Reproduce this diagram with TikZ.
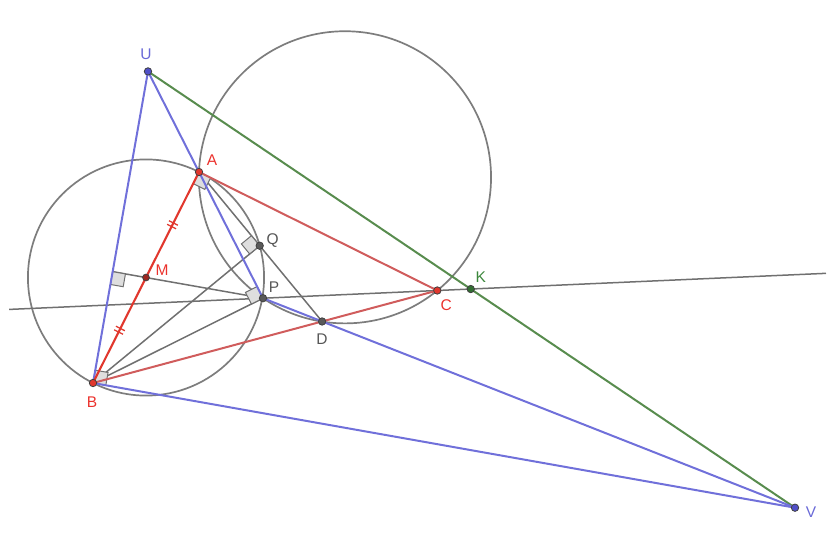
\documentclass[tikz,border=0pt]{standalone}
\usepackage{fontspec}
\setmainfont{Liberation Sans}
\usetikzlibrary{calc}
\definecolor{lblue}{RGB}{112,112,218}
\definecolor{dblue}{RGB}{80,80,200}
\definecolor{lgreen}{RGB}{88,140,78}
\definecolor{dgreen}{RGB}{50,110,50}
\definecolor{rline}{RGB}{225,55,45}
\definecolor{sline}{RGB}{208,92,92}
\definecolor{gline}{RGB}{112,112,112}
\definecolor{gcirc}{RGB}{125,125,125}
\definecolor{rtext}{RGB}{235,50,45}
\definecolor{gtext}{RGB}{85,85,85}
\definecolor{btext}{RGB}{105,105,215}
\definecolor{ktext}{RGB}{60,135,60}
\newcommand{\rtmark}[3]{%
  \coordinate (rma) at ($(#1)!13pt!(#2)$);
  \coordinate (rmb) at ($(#1)!13pt!(#3)$);
  \draw[markbox] (#1) -- (rma) -- ($(rma)+(rmb)-(#1)$) -- (rmb) -- cycle;}
\begin{document}
\begin{tikzpicture}[x=1pt,y=-1pt,
  bluel/.style={draw=lblue,line width=2pt},
  greenl/.style={draw=lgreen,line width=2pt},
  redl/.style={draw=rline,line width=2.1pt},
  salml/.style={draw=sline,line width=2pt},
  grayl/.style={draw=gline,line width=1.5pt},
  circl/.style={draw=gcirc,line width=1.7pt},
  markbox/.style={draw=gline,fill=black!13,line width=1pt},
  lbl/.style={font=\fontsize{15.5}{17}\selectfont,inner sep=0pt},
  dot/.style={draw=black!75,line width=0.8pt}]
\useasboundingbox (0,0) rectangle (838,552);
% base points
\coordinate (A) at (199,172);
\coordinate (B) at (93,383);
\coordinate (C) at (437.3,290.5);
\coordinate (P) at (263,298.2);
\coordinate (V) at (795,507.7);
\coordinate (M) at ($(A)!0.5!(B)$);
\coordinate (U) at ($(A)!-0.797!(P)$);
\coordinate (D) at (intersection of P--V and B--C);
\coordinate (K) at (intersection of U--V and P--C);
\coordinate (Q) at ($(A)!(B)!(D)$);
\coordinate (F) at ($(U)!(P)!(B)$);
\coordinate (L1) at ($(P)!-1.457!(C)$);
\coordinate (L2) at ($(P)!3.23!(C)$);
\coordinate (O2) at (344.97,177.3);
% circles
\draw[circl] (M) circle[radius=118.07];
\draw[circl] (O2) circle[radius=146.07];
% gray lines
\draw[grayl] (L1) -- (L2);
\draw[grayl] (F) -- (P);
\draw[grayl] (A) -- (D);
\draw[grayl] (B) -- (Q);
\draw[grayl] (B) -- (P);
% right-angle marks
\rtmark{A}{B}{C}
\rtmark{B}{U}{V}
\rtmark{P}{A}{B}
\rtmark{Q}{A}{B}
\rtmark{F}{P}{B}
% coloured lines
\draw[salml] (A) -- (C);
\draw[salml] (B) -- (C);
\draw[greenl] (U) -- (V);
\draw[bluel] (U) -- (B);
\draw[bluel] (U) -- (P);
\draw[bluel] (P) -- (V);
\draw[bluel] (B) -- (V);
\draw[redl] (A) -- (B);
% tick marks on AB
\foreach \t in {0.25,0.75}{
  \coordinate (tc) at ($(A)!\t!(B)$);
  \foreach \s in {-2,2}{
    \coordinate (ts) at ($(tc)!\s pt!(A)$);
    \draw[draw=rline,line width=1.3pt] ($(ts)!5pt!90:(A)$) -- ($(ts)!5pt!-90:(A)$);
  }
}
% points
\fill[rline,dot] (A) circle[radius=3.7];
\fill[rline,dot] (B) circle[radius=3.7];
\fill[rline,dot] (C) circle[radius=3.7];
\fill[fill=rline!70!black,dot] (M) circle[radius=3.4];
\fill[fill=black!65,dot] (P) circle[radius=3.7];
\fill[fill=black!65,dot] (Q) circle[radius=3.7];
\fill[fill=black!65,dot] (D) circle[radius=3.7];
\fill[fill=dgreen,dot] (K) circle[radius=3.7];
\fill[fill=dblue,dot] (U) circle[radius=3.7];
\fill[fill=dblue,dot] (V) circle[radius=3.7];
% labels
\node[lbl,text=btext] (lU) at ($(U)+(-2,-17)$) {U};
\node[lbl,text=rtext] (lA) at ($(A)+(13,-12)$) {A};
\node[lbl,text=rtext] (lB) at ($(B)+(-1,19)$) {B};
\node[lbl,text=rtext] (lC) at ($(C)+(9,15)$) {C};
\node[lbl,text=rtext] (lM) at ($(M)+(16,-7)$) {M};
\node[lbl,text=gtext] (lP) at ($(P)+(11,-11)$) {P};
\node[lbl,text=gtext] (lQ) at ($(Q)+(13,-5)$) {Q};
\node[lbl,text=gtext] (lD) at ($(D)+(0,18)$) {D};
\node[lbl,text=ktext] (lK) at ($(K)+(10,-12)$) {K};
\node[lbl,text=btext] (lV) at ($(V)+(16,4)$) {V};
\end{tikzpicture}
\end{document}
